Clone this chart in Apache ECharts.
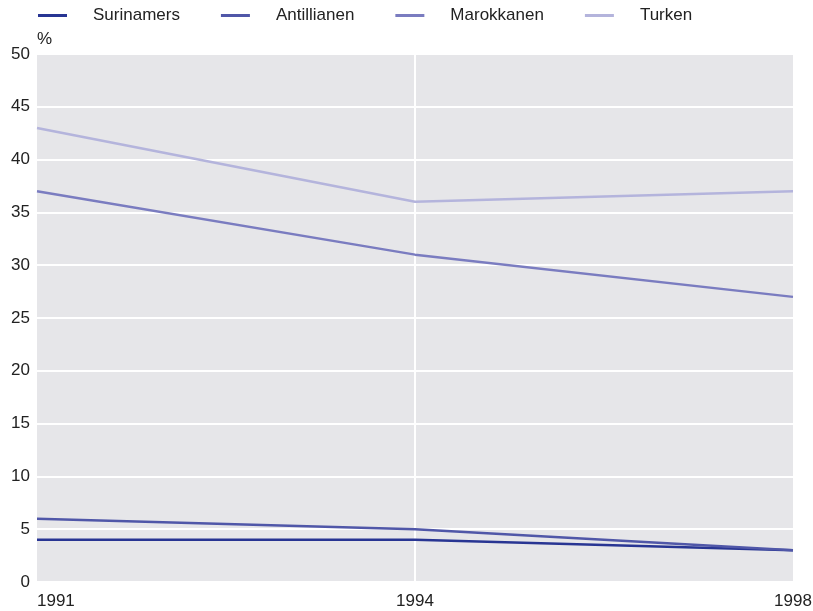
<!DOCTYPE html>
<html>
<head>
<meta charset="utf-8">
<script src="https://cdn.jsdelivr.net/npm/echarts@6/dist/echarts.min.js"></script>
<style>
html, body { margin: 0; padding: 0; background: #fff; }
#main { width: 813px; height: 611px; }
</style>
</head>
<body>
<div id="main"></div>
<script>
const years = ['1991', '1994', '1998']
const surinamers = [4, 4, 3]
const antillianen = [6, 5, 3]
const marokkanen = [37, 31, 27]
const turken = [43, 36, 37]

const chart = echarts.init(document.getElementById('main'))

function line (name, data, color) {
  return {
    name: name,
    type: 'line',
    data: data,
    symbol: 'none',
    color: color,
    lineStyle: { width: 2.5, color: color }
  }
}

chart.setOption({
  animation: false,
  textStyle: { fontFamily: 'Liberation Sans, Arial, sans-serif' },
  legend: {
    left: 33,
    top: 2,
    itemWidth: 29,
    itemHeight: 3,
    itemGap: 41,
    icon: 'rect',
    textStyle: { fontSize: 17, color: '#222', padding: [0, 0, 0, 21] },
    data: ['Surinamers', 'Antillianen', 'Marokkanen', 'Turken']
  },
  grid: {
    left: 37,
    right: 20,
    top: 54,
    bottom: 29,
    show: true,
    backgroundColor: '#e6e6e9',
    borderWidth: 0,
    containLabel: false,
    outerBoundsMode: 'none'
  },
  xAxis: {
    type: 'category',
    data: years,
    boundaryGap: false,
    axisLine: { show: false },
    axisTick: { show: false },
    axisLabel: {
      fontSize: 17,
      color: '#222',
      margin: 11,
      alignMinLabel: 'left'
    },
    splitLine: {
      show: true,
      interval: function (index) { return index === 1 },
      lineStyle: { color: '#fff', width: 2 }
    }
  },
  yAxis: {
    type: 'value',
    min: 0,
    max: 50,
    interval: 5,
    name: '%',
    nameLocation: 'end',
    nameGap: 6,
    nameTextStyle: { fontSize: 17, color: '#222', align: 'left' },
    axisLine: { show: false },
    axisTick: { show: false },
    axisLabel: { fontSize: 17, color: '#222', margin: 7 },
    splitLine: { lineStyle: { color: '#fff', width: 2 } }
  },
  series: [
    line('Surinamers', surinamers, '#283593'),
    line('Antillianen', antillianen, '#5057a8'),
    line('Marokkanen', marokkanen, '#7a7cc0'),
    line('Turken', turken, '#b4b4dc')
  ]
})
</script>
</body>
</html>
